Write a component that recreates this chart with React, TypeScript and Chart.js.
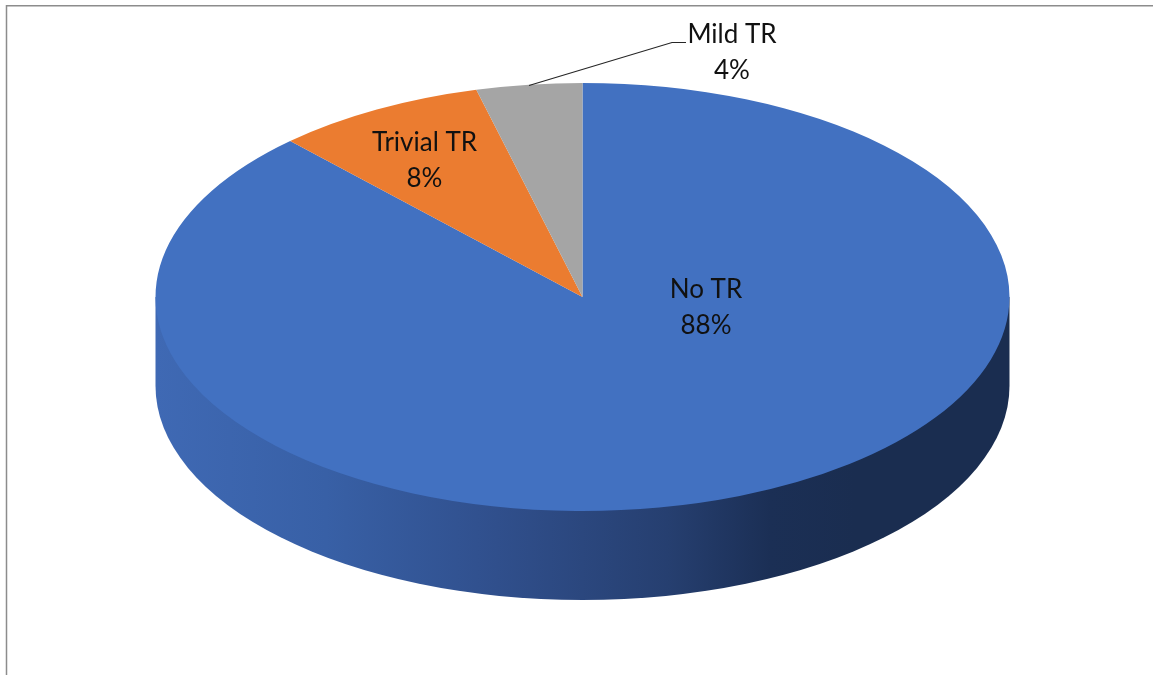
import React, { useEffect, useRef } from "react";
import { Chart, registerables } from "chart.js";

Chart.register(...registerables);

const categories = ["No TR", "Trivial TR", "Mild TR"];
const values = [88, 8, 4];
const colours = ["#4271C1", "#EB7C30", "#A5A5A5"];

const CX = 582.5;
const CY = 297;
const RX = 427;
const RY = 214;
const DEPTH = 89;
const FONT = '26px Lato, "Open Sans", sans-serif';
const TEXT_COLOUR = "#111111";
const labelAnchors = [
  { x: 706, y1: 290, y2: 326 },
  { x: 424.5, y1: 143, y2: 179 },
  { x: 732, y1: 35, y2: 71 },
];

const ellipsePlugin = {
  id: "ellipsePie",
  beforeDatasetsDraw(chart: any) {
    const ctx = chart.ctx;
    // frame
    ctx.save();
    ctx.strokeStyle = "#8c8c8c";
    ctx.lineWidth = 1.5;
    ctx.beginPath();
    ctx.moveTo(6.5, 675);
    ctx.lineTo(6.5, 5.75);
    ctx.lineTo(1153, 5.75);
    ctx.stroke();

    // cylinder wall
    const g = ctx.createLinearGradient(CX - RX, 0, CX + RX, 0);
    g.addColorStop(0, "#3F69B4");
    g.addColorStop(0.2, "#3860A6");
    g.addColorStop(0.4, "#304F8C");
    g.addColorStop(0.6, "#263F70");
    g.addColorStop(0.72, "#1B2F55");
    g.addColorStop(0.82, "#1A2D50");
    g.addColorStop(1, "#1A2D50");
    ctx.fillStyle = g;
    ctx.beginPath();
    ctx.moveTo(CX - RX, CY);
    ctx.lineTo(CX - RX, CY + DEPTH);
    ctx.ellipse(CX, CY + DEPTH, RX, RY, 0, Math.PI, 0, true);
    ctx.lineTo(CX + RX, CY);
    ctx.closePath();
    ctx.fill();
    ctx.restore();

    // squash the library's circular pie into the tilted top face
    const arc = chart.getDatasetMeta(0).data[0];
    ctx.save();
    ctx.translate(CX, CY);
    ctx.scale(RX / arc.outerRadius, RY / arc.outerRadius);
    ctx.translate(-arc.x, -arc.y);
  },
  afterDatasetsDraw(chart: any) {
    const ctx = chart.ctx;
    ctx.restore();

    ctx.save();
    // leader line of the outside label
    ctx.strokeStyle = "#262626";
    ctx.lineWidth = 1.2;
    ctx.beginPath();
    ctx.moveTo(529, 85.5);
    ctx.lineTo(672, 42.5);
    ctx.lineTo(686, 42.5);
    ctx.stroke();

    ctx.font = FONT;
    ctx.fillStyle = TEXT_COLOUR;
    ctx.textAlign = "center";
    ctx.textBaseline = "middle";
    categories.forEach((name, i) => {
      const a = labelAnchors[i];
      ctx.fillText(name, a.x, a.y1);
      ctx.fillText(`${values[i]}%`, a.x, a.y2);
    });
    ctx.restore();
  },
};

export default function App() {
  const ref = useRef<HTMLCanvasElement | null>(null);
  useEffect(() => {
    if (!ref.current) return;
    const chart = new Chart(ref.current, {
      type: "pie",
      data: {
        labels: categories,
        datasets: [
          {
            data: values,
            backgroundColor: colours,
            borderWidth: 0,
          },
        ],
      },
      options: {
        responsive: false,
        animation: false,
        layout: { padding: 0 },
        plugins: {
          legend: { display: false },
          tooltip: { enabled: false },
          title: { display: false },
        },
      },
      plugins: [ellipsePlugin],
    } as any);
    return () => chart.destroy();
  }, []);
  return (
    <div style={{ position: "fixed", left: 0, top: 0, width: 1153, height: 675, background: "#fff", overflow: "hidden" }}>
      <canvas ref={ref} width={1153} height={675} style={{ display: "block" }} />
    </div>
  );
}
